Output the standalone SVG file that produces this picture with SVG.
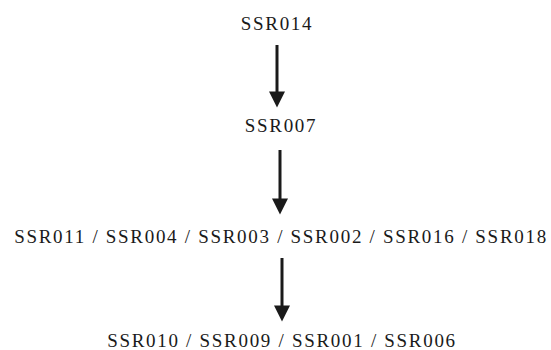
<svg xmlns="http://www.w3.org/2000/svg" width="551" height="350" viewBox="0 0 551 350">
<style>
text{font-family:"Liberation Serif","Times New Roman",serif;font-size:19px;letter-spacing:1.7px;fill:#1a1a1a;text-anchor:middle}
.c{stroke:#1a1a1a;stroke-width:3;fill:none}
</style>
<defs>
<marker id="ah" markerWidth="5.4" markerHeight="5.4" refX="0.2" refY="2.7" orient="auto" markerUnits="strokeWidth">
<path d="M0,0 L5.4,2.7 L0,5.4 Z" fill="#1a1a1a"/>
</marker>
</defs>
<rect width="551" height="350" fill="#fff"/>
<g id="connectors">
<line class="c" x1="277" y1="45" x2="277" y2="92" marker-end="url(#ah)"/>
<line class="c" x1="280" y1="150" x2="280" y2="199" marker-end="url(#ah)"/>
<line class="c" x1="282" y1="258" x2="282" y2="306" marker-end="url(#ah)"/>
</g>
<g id="n1"><text x="277" y="30">SSR014</text></g>
<g id="n2"><text x="281" y="132">SSR007</text></g>
<g id="n3"><text x="281" y="243">SSR011 / SSR004 / SSR003 / SSR002 / SSR016 / SSR018</text></g>
<g id="n4"><text x="282" y="347">SSR010 / SSR009 / SSR001 / SSR006</text></g>
</svg>
